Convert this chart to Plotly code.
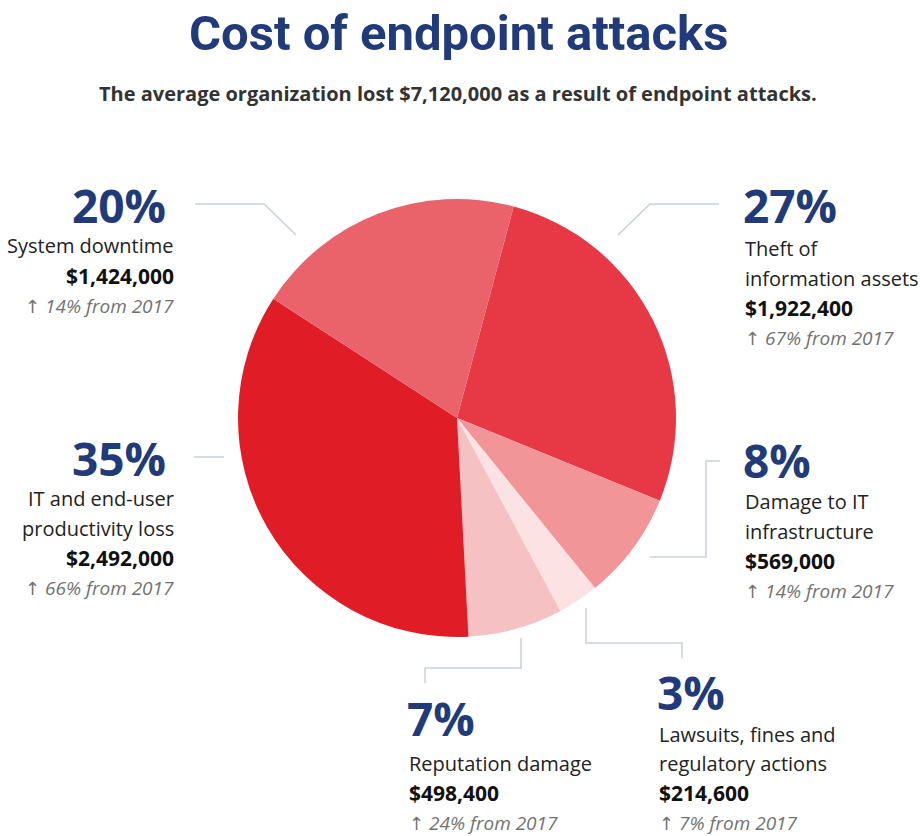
import plotly.graph_objects as go

# ---- data ----
categories = ["Theft of information assets", "Damage to IT infrastructure",
              "Lawsuits, fines and regulatory actions", "Reputation damage",
              "IT and end-user productivity loss", "System downtime"]
label_lines = [["Theft of", "information assets"], ["Damage to IT", "infrastructure"],
               ["Lawsuits, fines and", "regulatory actions"], ["Reputation damage"],
               ["IT and end-user", "productivity loss"], ["System downtime"]]
values = [1922400, 569000, 214600, 498400, 2492000, 1424000]
pct_labels = ["27%", "8%", "3%", "7%", "35%", "20%"]
change_2017 = ["67%", "14%", "7%", "24%", "66%", "14%"]
colors = ["#E73846", "#F29598", "#FCE2E3", "#F6C1C2", "#E01D26", "#EB636A"]

W, H = 920, 836
NAVY = "#213A7A"
LINE = "#C9CFDD"


def px(x, y):
    return x / W, 1 - y / H


fig = go.Figure()
cx, cy, r = 457, 418, 219
x0, y0 = px(cx - r, cy - r)
x1, y1 = px(cx + r, cy + r)
fig.add_trace(go.Pie(
    values=values, labels=categories, sort=False, direction="clockwise",
    rotation=15, marker=dict(colors=colors, line=dict(width=0)),
    textinfo="none", hoverinfo="label+value+percent", showlegend=False,
    domain=dict(x=[x0, x1], y=[y1, y0]),
))

# label layout: (anchor x, align, y of pct, y of first text line, line step)
layout_pos = [
    (743, "left", 205, 248, 30),
    (743, "left", 460, 501, 30),
    (657, "left", 692, 734, 29.5),
    (407, "left", 718, 763, 30),
    (176, "right", 458, 498, 30),
    (176, "right", 205, 246, 30),
]

ann = []
for i in range(len(values)):
    ax, al, ypct, yline, step = layout_pos[i]
    xa = "left" if al == "left" else "right"
    pxp = ax - 8 if al == "right" else ax - 2
    X, Y = px(pxp, ypct)
    ann.append(dict(x=X, y=Y, xref="paper", yref="paper", xanchor=xa, yanchor="middle",
                    text=f"<b>{pct_labels[i]}</b>", showarrow=False,
                    font=dict(family="Open Sans", size=46, color=NAVY)))
    yy = yline
    for ln in label_lines[i]:
        X, Y = px(ax, yy)
        ann.append(dict(x=X, y=Y, xref="paper", yref="paper", xanchor=xa, yanchor="middle",
                        text=ln, showarrow=False,
                        font=dict(family="Open Sans", size=20, color="#222222")))
        yy += step
    X, Y = px(ax, yy)
    ann.append(dict(x=X, y=Y, xref="paper", yref="paper", xanchor=xa, yanchor="middle",
                    text=f"<b>${values[i]:,}</b>", showarrow=False,
                    font=dict(family="Open Sans", size=21, color="#111111")))
    yy += step
    X, Y = px(ax, yy)
    ann.append(dict(x=X, y=Y, xref="paper", yref="paper", xanchor=xa, yanchor="middle",
                    text=(f"<span style='font-family:DejaVu Sans;font-size:18px'>↑</span> "
                          f"<i>{change_2017[i]} from 2017</i>"),
                    showarrow=False,
                    font=dict(family="Open Sans", size=19, color="#727272")))

# title and subtitle
X, Y = px(458, 33)
ann.append(dict(x=X, y=Y, xref="paper", yref="paper", xanchor="center", yanchor="middle",
                text="<b>Cost of endpoint attacks</b>", showarrow=False,
                font=dict(family="Roboto", size=49, color=NAVY)))
X, Y = px(458, 94)
ann.append(dict(x=X, y=Y, xref="paper", yref="paper", xanchor="center", yanchor="middle",
                text="<b>The average organization lost $7,120,000 as a result of endpoint attacks.</b>",
                showarrow=False, font=dict(family="Open Sans", size=20, color="#333333")))

# leader lines (pixel paths)
leaders = [
    [(618, 235), (650, 204), (719, 204)],
    [(650, 557), (706, 557), (706, 461), (720, 461)],
    [(586, 608), (586, 643), (682, 643), (682, 658)],
    [(521, 638), (521, 668), (425, 668), (425, 683)],
    [(194, 457), (224, 457)],
    [(195, 204), (264, 204), (296, 235)],
]
shapes = []
for pts in leaders:
    path = ""
    for j, (a, b) in enumerate(pts):
        X, Y = px(a, b)
        path += ("M" if j == 0 else "L") + f"{X:.5f},{Y:.5f} "
    shapes.append(dict(type="path", path=path.strip(), xref="paper", yref="paper",
                       line=dict(color=LINE, width=1.5)))

fig.update_layout(width=W, height=H, margin=dict(l=0, r=0, t=0, b=0),
                  paper_bgcolor="white", plot_bgcolor="white",
                  annotations=ann, shapes=shapes)
fig.write_html("out.html")
